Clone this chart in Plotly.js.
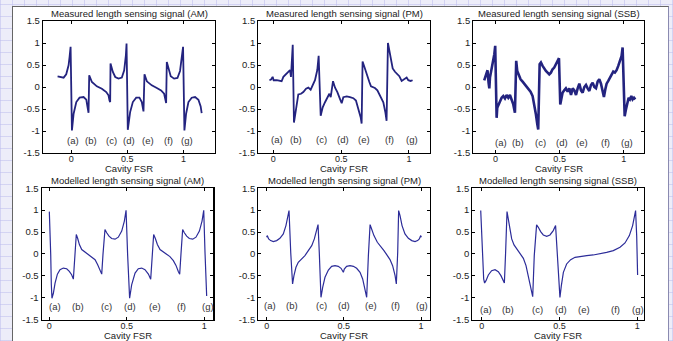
<!DOCTYPE html>
<html>
<head>
<meta charset="utf-8">
<script src="https://cdn.plot.ly/plotly-3.0.1.min.js"></script>
<style>
html,body{margin:0;padding:0;}
body{width:673px;height:341px;overflow:hidden;position:relative;
background-color:#ededf9;
background-image:repeating-linear-gradient(0deg, rgba(190,190,238,0.55) 0px, rgba(190,190,238,0.55) 1px, transparent 1px, transparent 12px),
repeating-linear-gradient(90deg, rgba(190,190,238,0.55) 0px, rgba(190,190,238,0.55) 1px, transparent 1px, transparent 12px);}
#panel{position:absolute;left:12px;top:6px;width:655px;height:340px;background:#fff;border-left:1px solid #666;border-top:1px solid #666;border-right:1px solid #8a8ab0;}
#chart{position:absolute;left:0;top:0;width:673px;height:341px;}
</style>
</head>
<body>
<div id="panel"></div>
<div id="chart"></div>
<script>
// ---- Data ----
var amMeasX = [-0.122,-0.098,-0.068,-0.045,-0.024,-0.015,-0.006,0.006,0.021,0.045,0.074,0.110,0.134,0.145,0.154,0.160,0.184,0.228,0.273,0.312,0.332,0.341,0.347,0.350,0.371,0.392,0.421,0.451,0.472,0.487,0.493,0.504,0.525,0.549,0.579,0.608,0.629,0.644,0.653,0.674,0.718,0.763,0.801,0.828,0.840,0.846,0.852,0.869,0.887,0.917,0.947,0.970,0.988,0.997,1.009,1.024,1.045,1.074,1.104,1.134,1.154,1.163];
var amMeasY = [0.243,0.228,0.213,0.289,0.494,0.684,0.913,-0.989,-0.608,-0.342,-0.243,-0.228,-0.289,-0.456,-0.586,0.266,0.114,0.015,-0.038,-0.114,-0.190,-0.304,-0.342,0.532,0.342,0.228,0.190,0.213,0.380,0.722,0.989,-0.973,-0.570,-0.342,-0.243,-0.243,-0.342,-0.555,0.289,0.129,0.038,-0.023,-0.076,-0.152,-0.304,-0.365,0.570,0.380,0.243,0.190,0.205,0.365,0.684,0.913,-0.989,-0.608,-0.342,-0.243,-0.228,-0.289,-0.441,-0.593];

var pmMeasX = [-0.029,-0.017,-0.005,0.002,0.025,0.049,0.061,0.074,0.093,0.111,0.123,0.130,0.135,0.143,0.152,0.162,0.172,0.184,0.204,0.221,0.241,0.258,0.275,0.290,0.307,0.324,0.334,0.349,0.364,0.381,0.398,0.413,0.423,0.432,0.440,0.455,0.472,0.491,0.504,0.516,0.541,0.565,0.590,0.609,0.622,0.634,0.644,0.651,0.658,0.671,0.683,0.695,0.708,0.720,0.737,0.749,0.767,0.781,0.794,0.811,0.826,0.835,0.845,0.855,0.867,0.880,0.897,0.914,0.929,0.946,0.963,0.983,0.995,1.012,1.027];
var pmMeasY = [0.154,0.169,0.231,0.154,0.154,0.138,0.131,0.231,0.292,0.362,0.385,0.231,0.615,0.962,-0.808,-0.615,-0.385,-0.169,-0.154,-0.115,-0.038,-0.015,-0.062,0.038,0.154,0.385,0.708,-0.654,-0.462,-0.346,-0.231,-0.154,-0.231,-0.038,0.131,-0.015,-0.115,-0.269,-0.369,-0.231,-0.215,-0.231,-0.254,-0.308,-0.446,-0.538,-0.692,-0.831,0.577,0.462,0.346,0.192,0.115,0.015,-0.015,-0.023,-0.077,-0.154,-0.231,-0.346,-0.577,-0.769,1.000,0.846,0.615,0.423,0.346,0.292,0.246,0.138,0.169,0.215,0.154,0.138,0.154];

var ssbMeasX = [-0.089,-0.078,-0.070,-0.063,-0.055,-0.049,-0.044,-0.036,-0.026,-0.018,-0.010,-0.003,0.008,0.013,0.023,0.034,0.047,0.060,0.073,0.086,0.099,0.112,0.125,0.138,0.151,0.161,0.169,0.182,0.195,0.211,0.227,0.242,0.258,0.273,0.289,0.302,0.315,0.326,0.333,0.344,0.354,0.367,0.380,0.393,0.406,0.419,0.432,0.445,0.458,0.471,0.484,0.495,0.505,0.513,0.523,0.536,0.549,0.563,0.576,0.589,0.602,0.615,0.628,0.641,0.654,0.667,0.680,0.693,0.706,0.719,0.732,0.745,0.758,0.771,0.784,0.797,0.810,0.823,0.836,0.846,0.857,0.867,0.880,0.893,0.906,0.919,0.932,0.945,0.958,0.971,0.984,0.992,1.008,1.018,1.029,1.039,1.049,1.060,1.070,1.081,1.091];
var ssbMeasY = [0.152,0.251,0.366,0.381,0.099,-0.030,0.213,0.327,0.442,0.556,0.746,0.937,-0.701,-0.472,-0.396,-0.320,-0.244,-0.206,-0.259,-0.183,-0.244,-0.183,-0.282,-0.396,-0.586,0.594,0.366,0.274,0.175,0.122,0.061,0.023,-0.030,-0.107,-0.206,-0.396,-0.625,-0.853,-0.967,0.518,0.556,0.480,0.404,0.366,0.327,0.289,0.327,0.404,0.442,0.518,0.594,0.655,-0.396,-0.282,-0.129,-0.076,-0.030,-0.107,-0.030,-0.183,-0.030,-0.076,-0.183,-0.030,0.076,-0.076,-0.129,0.000,0.046,-0.030,-0.091,0.046,0.099,0.000,-0.030,0.122,0.175,0.076,-0.107,-0.228,-0.053,0.076,0.137,0.198,0.274,0.350,0.327,0.381,0.480,0.579,0.708,0.899,-0.663,-0.510,-0.358,-0.244,-0.282,-0.206,-0.282,-0.244,-0.282];

var amModX = [0.000,0.004,0.009,0.013,0.017,0.026,0.037,0.052,0.069,0.090,0.112,0.129,0.144,0.155,0.163,0.174,0.183,0.194,0.209,0.230,0.252,0.273,0.295,0.312,0.327,0.338,0.346,0.359,0.370,0.385,0.402,0.424,0.445,0.467,0.484,0.495,0.505,0.518,0.531,0.553,0.574,0.596,0.617,0.639,0.654,0.662,0.673,0.684,0.697,0.714,0.735,0.757,0.778,0.800,0.817,0.832,0.841,0.849,0.860,0.871,0.886,0.903,0.925,0.946,0.968,0.985,0.996,1.004,1.015];
var amModY = [0.966,0.598,-0.015,-0.705,-1.011,-0.897,-0.667,-0.460,-0.360,-0.322,-0.337,-0.398,-0.475,-0.575,-0.015,0.444,0.352,0.215,0.100,0.046,0.000,-0.054,-0.130,-0.245,-0.383,-0.460,-0.015,0.559,0.483,0.406,0.352,0.337,0.383,0.521,0.751,0.996,-0.015,-1.011,-0.705,-0.437,-0.337,-0.322,-0.360,-0.460,-0.575,-0.015,0.444,0.352,0.215,0.100,0.046,0.000,-0.061,-0.153,-0.261,-0.398,-0.460,-0.015,0.559,0.483,0.406,0.352,0.337,0.383,0.521,0.751,0.996,0.061,-0.958];

var pmModX = [0.000,0.004,0.013,0.026,0.043,0.065,0.086,0.108,0.125,0.138,0.145,0.156,0.168,0.177,0.190,0.205,0.227,0.248,0.270,0.292,0.309,0.324,0.333,0.341,0.352,0.363,0.378,0.400,0.421,0.443,0.464,0.482,0.497,0.503,0.518,0.540,0.562,0.583,0.605,0.622,0.637,0.648,0.659,0.670,0.680,0.695,0.717,0.739,0.760,0.782,0.799,0.816,0.832,0.840,0.849,0.855,0.864,0.877,0.896,0.918,0.940,0.961,0.978,0.989,0.998,1.002];
var pmModY = [0.381,0.419,0.343,0.305,0.282,0.305,0.358,0.457,0.647,0.876,0.990,0.038,-0.685,-0.495,-0.305,-0.190,-0.114,-0.038,0.076,0.190,0.343,0.533,0.670,0.038,-0.990,-0.762,-0.533,-0.366,-0.282,-0.267,-0.282,-0.327,-0.419,-0.343,-0.282,-0.267,-0.282,-0.327,-0.419,-0.571,-0.800,-0.990,-0.038,0.670,0.571,0.419,0.267,0.175,0.076,-0.038,-0.129,-0.267,-0.495,-0.685,0.038,0.990,0.876,0.647,0.457,0.358,0.305,0.282,0.305,0.343,0.419,0.381];

var ssbModX = [-0.006,0.000,0.006,0.013,0.019,0.028,0.043,0.064,0.086,0.107,0.124,0.139,0.146,0.154,0.163,0.171,0.182,0.193,0.208,0.225,0.246,0.268,0.285,0.300,0.315,0.328,0.338,0.353,0.364,0.379,0.396,0.418,0.439,0.460,0.475,0.486,0.503,0.512,0.525,0.546,0.572,0.600,0.632,0.675,0.717,0.760,0.803,0.846,0.889,0.921,0.949,0.970,0.985,0.989,0.996,1.002];
var ssbModY = [0.990,0.571,-0.114,-0.571,-0.663,-0.609,-0.480,-0.381,-0.358,-0.404,-0.495,-0.632,-0.663,0.038,0.967,0.800,0.533,0.343,0.206,0.114,0.023,-0.099,-0.267,-0.495,-0.762,-0.975,-0.038,0.663,0.609,0.510,0.434,0.404,0.434,0.533,0.647,-0.038,-0.990,-0.724,-0.419,-0.228,-0.129,-0.076,-0.053,-0.038,-0.023,0.000,0.038,0.076,0.152,0.251,0.419,0.647,0.952,0.990,0.419,-0.480];

var titles = ["Measured length sensing signal (AM)","Measured length sensing signal (PM)","Measured length sensing signal (SSB)",
              "Modelled length sensing signal (AM)","Modelled length sensing signal (PM)","Modelled length sensing signal (SSB)"];
var xTitle = "Cavity FSR";
var yTickVals = [-1.5,-1,-0.5,0,0.5,1,1.5];
var yTickText = ["-1.5","-1","-0.5","0","0.5","1","1.5"];
var xTickVals = [0,0.5,1];
var xTickText = ["0","0.5","1"];
var labelText = ["(a)","(b)","(c)","(d)","(e)","(f)","(g)"];
var labelX = [
  [0.012,0.175,0.362,0.516,0.685,0.866,1.036],
  [0.025,0.167,0.356,0.516,0.668,0.855,1.020],
  [0.042,0.177,0.352,0.518,0.677,0.859,1.023],
  [0.037,0.183,0.366,0.520,0.682,0.854,1.026],
  [0.022,0.166,0.356,0.503,0.676,0.836,1.009],
  [0.026,0.171,0.360,0.510,0.660,0.861,1.006]
];
var labelY = [-1.22,-1.19,-1.26,-1.20,-1.18,-1.26];

// ---- Layout geometry ----
var xRanges = [[-0.252,1.282],[-0.111,1.155],[-0.174,1.159],[-0.049,1.058],[-0.054,1.058],[-0.060,1.043]];
var xDomains = [[0.0639,0.3195],[0.3838,0.6389],[0.7033,0.9569],[0.0620,0.3170],[0.3838,0.6389],[0.7018,0.9569]];
var yDomains = [[0.5513,0.9384],[0.5513,0.9384],[0.5513,0.9384],[0.0625,0.4480],[0.0625,0.4480],[0.0625,0.4480]];
var xTitleShift = [-15,-15,-15,-15.5,-15.5,-15.5];

var seriesX = [amMeasX,pmMeasX,ssbMeasX,amModX,pmModX,ssbModX];
var seriesY = [amMeasY,pmMeasY,ssbMeasY,amModY,pmModY,ssbModY];
var lineW = [1.8,1.8,2.6,1.2,1.2,1.2];
var lineC = ["#23237f","#23237f","#23237f","#2c2c99","#2c2c99","#2c2c99"];

var font = "Liberation Sans, Arial, sans-serif";
var traces = [];
var layout = {
  width:673, height:341,
  margin:{l:0,r:0,t:0,b:0},
  paper_bgcolor:"rgba(0,0,0,0)",
  plot_bgcolor:"#ffffff",
  showlegend:false,
  font:{family:font,size:9.5,color:"#222"},
  annotations:[]
};

for (var i=0;i<6;i++){
  var n = i+1;
  var xa = n===1 ? "x" : "x"+n;
  var ya = n===1 ? "y" : "y"+n;
  traces.push({x:seriesX[i], y:seriesY[i], xaxis:xa, yaxis:ya, type:"scatter", mode:"lines",
               line:{color:lineC[i], width:lineW[i]}, hoverinfo:"skip"});
  var axCommon = {showline:true, mirror:"ticks", linecolor:"#000", linewidth:1.2,
                  ticks:"inside", ticklen:3, tickcolor:"#000", tickwidth:1,
                  showgrid:false, zeroline:false, automargin:false,
                  tickfont:{family:font,size:9.5,color:"#222"}};
  var xo = Object.assign({}, axCommon, {domain:xDomains[i], range:xRanges[i], anchor:ya,
            tickmode:"array", tickvals:xTickVals, ticktext:xTickText,
            tickfont:{family:font,size:9,color:"#222"}, ticklabelstandoff:-3});
  var yo = Object.assign({}, axCommon, {domain:yDomains[i], range:[-1.5,1.5], anchor:xa,
            tickmode:"array", tickvals:yTickVals, ticktext:yTickText});
  layout[n===1?"xaxis":"xaxis"+n] = xo;
  layout[n===1?"yaxis":"yaxis"+n] = yo;
  layout.annotations.push({text:titles[i], xref:xa+" domain", yref:ya+" domain", x:0.5, y:1,
      xanchor:"center", yanchor:"bottom", yshift:0, showarrow:false,
      font:{family:font,size:9.5,color:"#222"}});
  layout.annotations.push({text:xTitle, xref:xa+" domain", yref:ya+" domain", x:0.5, y:0,
      xanchor:"center", yanchor:"middle", yshift:xTitleShift[i], showarrow:false,
      font:{family:font,size:9.5,color:"#222"}});
  for (var k=0;k<labelText.length;k++){
    layout.annotations.push({text:labelText[k], xref:xa, yref:ya, x:labelX[i][k], y:labelY[i],
      xanchor:"center", yanchor:"middle", showarrow:false,
      font:{family:font,size:9.5,color:"#333"}});
  }
}

Plotly.newPlot("chart", traces, layout, {staticPlot:true, displayModeBar:false});
</script>
</body>
</html>
